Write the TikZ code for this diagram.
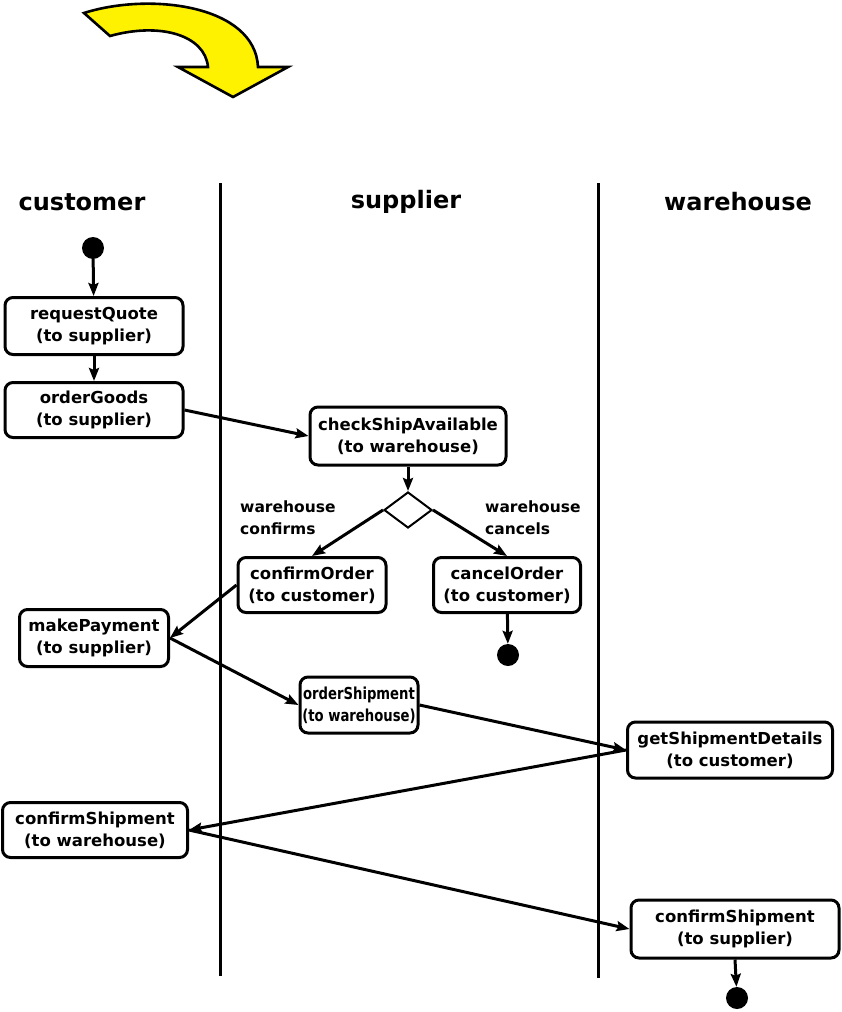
\documentclass[tikz,border=0pt]{standalone}
\usepackage{fontspec}
\setmainfont{DejaVu Sans}
\usetikzlibrary{arrows.meta,shapes.geometric}
\newcommand{\narrow}[1]{\scalebox{0.8}[1]{#1}}
\begin{document}
\begin{tikzpicture}[x=1pt,y=-1pt,
  act/.style={draw,line width=3pt,rounded corners=8pt,align=center,
    font=\bfseries\fontsize{16.5}{22}\selectfont,inner sep=0pt},
  flow/.style={line width=3pt,-{Stealth[length=13pt,width=10pt,inset=2pt]}},
  dot/.style={circle,fill=black,minimum size=22pt,inner sep=0pt},
  lane/.style={line width=3pt},
  head/.style={font=\bfseries\fontsize{24}{30}\selectfont},
  lbl/.style={font=\bfseries\fontsize{15.5}{22}\selectfont,align=left,inner sep=0pt},
  choice/.style={diamond,draw,line width=2pt,minimum width=48pt,minimum height=36pt,
    aspect=1.33,inner sep=0pt}]
\useasboundingbox (0,0) rectangle (841,1012);

% curved yellow arrow
\draw[line width=2.6pt,fill=yellow,line join=miter]
  (84,13) .. controls (150,-8) and (255,5) .. (258,67) -- (288,67) -- (233,97)
  -- (178,67) -- (208,67) .. controls (205,35) and (160,22) .. (110,36) -- cycle;

% swimlane separators
\draw[lane] (220,183) -- (220,976);
\draw[lane] (598,183) -- (598,978);

% lane headers
\node[head] (hc) at (82,202) {customer};
\node[head] (hs) at (406,202) {supplier};
\node[head] (hw) at (738,202) {warehouse};

% activities
\node[dot] (start) at (93,248) {};
\node[act,minimum width=178pt,minimum height=57pt] (rq) at (94,326) {requestQuote\\(to supplier)};
\node[act,minimum width=178pt,minimum height=55pt] (og) at (94,410) {orderGoods\\(to supplier)};
\node[act,minimum width=196pt,minimum height=58pt] (cs) at (408,436) {checkShipAvailable\\(to warehouse)};
\node[choice] (dec) at (408,510) {};
\node[lbl,anchor=west] (lc) at (240,518) {warehouse\\confirms};
\node[lbl,anchor=west] (lx) at (485,518) {warehouse\\cancels};
\node[act,minimum width=148pt,minimum height=55pt] (co) at (312,585) {confirmOrder\\(to customer)};
\node[act,minimum width=147pt,minimum height=55pt] (xo) at (507,585) {cancelOrder\\(to customer)};
\node[dot] (end1) at (508,655) {};
\node[act,minimum width=149pt,minimum height=57pt] (mp) at (94,638) {makePayment\\(to supplier)};
\node[act,minimum width=118pt,minimum height=56pt] (os) at (359,705) {\narrow{orderShipment}\\\narrow{(to warehouse)}};
\node[act,minimum width=205pt,minimum height=56pt] (gd) at (730,750) {getShipmentDetails\\(to customer)};
\node[act,minimum width=185pt,minimum height=55pt] (cw) at (95,830) {confirmShipment\\(to warehouse)};
\node[act,minimum width=208pt,minimum height=58pt] (cp) at (735,929) {confirmShipment\\(to supplier)};
\node[dot] (end2) at (737,998) {};

% control flow
\draw[flow] (start) -- (rq);
\draw[flow] (rq) -- (og);
\draw[flow] (og.east) -- (cs.west);
\draw[flow] (cs) -- (dec);
\draw[flow] (dec.west) -- (co.north);
\draw[flow] (dec.east) -- (xo.north);
\draw[flow] (xo) -- (end1);
\draw[flow] (co.west) -- (mp.east);
\draw[flow] (mp.east) -- (os.west);
\draw[flow] (os.east) -- (gd.west);
\draw[flow] (gd.west) -- (cw.east);
\draw[flow] (cw.east) -- (cp.west);
\draw[flow] (cp.south) -- (end2);
\end{tikzpicture}
\end{document}
